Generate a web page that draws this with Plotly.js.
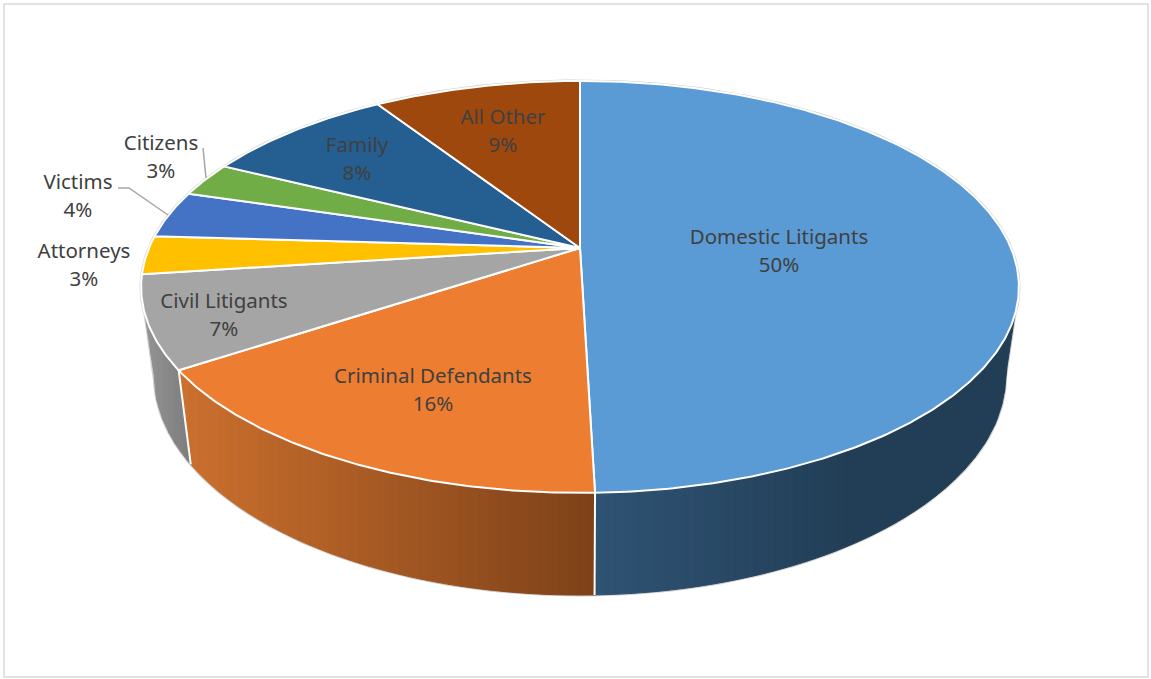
<!DOCTYPE html>
<html>
<head>
<meta charset="utf-8">
<script src="https://cdn.plot.ly/plotly-3.0.0.min.js"></script>
<style>html,body{margin:0;padding:0;background:#fff}#chart{width:1151px;height:679px}</style>
</head>
<body>
<div id="chart"></div>
<script>
const categories = ["Domestic Litigants","Criminal Defendants","Civil Litigants","Attorneys","Victims","Citizens","Family","All Other"];
const shares = [49.55,16.15,7.25,3.0,3.7,2.7,8.49,9.16];
const colors = ["#5B9BD5","#ED7D31","#A5A5A5","#FFC000","#4472C4","#70AD47","#255E91","#9E480E"];
const labelX = [779,433,224,84,78,161,357,503];
const labelY = [238.5,377.5,302.5,252.5,183.5,144.5,146.5,118.5];
const lineGap = 28.5;

// wall shade: colour at the left and right of each visible wall, in screen x
const wallShade = [
  {x0:595,x1:850,c0:[47,83,116],c1:[34,62,86],band:10},
  {x0:180,x1:595,c0:[204,112,46],c1:[125,65,24],band:10},
  {x0:145,x1:189,c0:[148,148,148],c1:[126,126,126],band:6}
];

// perspective disc
const cx=580, k=0.189;
const topPlane={ay:248,a:431,b:198.6};
const botPlane={ay:334,a:418,b:211.7};
function rim(deg,p){
  const t=deg*Math.PI/180,u=Math.sin(t),v=Math.cos(t),d=1+k*v;
  return [cx+p.a*u/d,p.ay-p.b*v/d];
}
function arc(a0,a1,p,step){
  const n=Math.max(1,Math.ceil(Math.abs(a1-a0)/(step||0.5))),o=[];
  for(let i=0;i<=n;i++)o.push(rim(a0+(a1-a0)*i/n,p));
  return o;
}
const total=shares.reduce((a,b)=>a+b,0);
const bounds=[0];
shares.forEach(s=>bounds.push(bounds[bounds.length-1]+s/total*360));

const traces=[];
function poly(pts,fill,lineColor,w){
  traces.push({type:"scatter",mode:"lines",x:pts.map(p=>p[0]),y:pts.map(p=>p[1]),
    fill:"toself",fillcolor:fill,line:{color:lineColor||fill,width:w===undefined?1:w},
    hoverinfo:"skip",showlegend:false});
}
function stroke(pts,c,w){
  traces.push({type:"scatter",mode:"lines",x:pts.map(p=>p[0]),y:pts.map(p=>p[1]),
    line:{color:c,width:w},hoverinfo:"skip",showlegend:false});
}
function mix(s,x){
  let f=(x-s.x0)/(s.x1-s.x0);f=Math.max(0,Math.min(1,f));
  const c=s.c0.map((v,i)=>Math.round(v+(s.c1[i]-v)*f));
  return "rgb("+c.join(",")+")";
}
function yAt(line,x){
  for(let i=0;i<line.length-1;i++){
    const a=line[i],b=line[i+1];
    if(x>=a[0]&&x<=b[0]){return b[0]===a[0]?a[1]:a[1]+(b[1]-a[1])*(x-a[0])/(b[0]-a[0]);}
  }
  return x<line[0][0]?line[0][1]:line[line.length-1][1];
}
function byX(line){return line.slice().sort((a,b)=>a[0]-b[0]);}

// silhouette limits of the wall
const topR=108.5,botR=101,topL=251.5,botL=259;

// outer hairline
stroke(arc(topL,topR+360,topPlane,1).concat(arc(botR,botL,botPlane,1)).concat([rim(topL,topPlane)]).reverse(),"#cfcfcf",3);

// upper and lower outline of the three visible walls, left to right on screen
const wallUpper=[
  byX(arc(bounds[1],topR,topPlane)),
  byX(arc(bounds[2],bounds[1],topPlane)),
  byX(arc(topL,bounds[2],topPlane).concat([rim(bounds[2],botPlane)]))
];
const wallLower=[
  byX(arc(bounds[1],botR,botPlane).concat([rim(topR,topPlane)])),
  byX([rim(bounds[2],topPlane)].concat(arc(bounds[2],bounds[1],botPlane))),
  byX([rim(topL,topPlane)].concat(arc(botL,bounds[2],botPlane)))
];
// vertical bands of shade
[0,1,2].forEach(i=>{
  const s=wallShade[i],U=wallUpper[i],L=wallLower[i];
  const xa=Math.min(U[0][0],L[0][0]),xb=Math.max(U[U.length-1][0],L[L.length-1][0]);
  for(let x=xa;x<xb;x+=s.band){
    const e=Math.min(x+s.band,xb),up=[],lo=[];
    for(let q=0;q<=4;q++){
      const xx=x+(e-x)*q/4;
      up.push([xx,yAt(U,xx)]);
      lo.unshift([xx,yAt(L,xx)]);
    }
    const pts=up.concat(lo);pts.push(pts[0]);
    poly(pts,mix(s,(x+e)/2));
  }
});
// wall edges between walls
[bounds[1],bounds[2]].forEach(d=>stroke([rim(d,topPlane),rim(d,botPlane)],"#ffffff",2));

// top face
shares.forEach((s,i)=>{
  const pts=[[cx,topPlane.ay]].concat(arc(bounds[i],bounds[i+1],topPlane,0.5));
  pts.push([cx,topPlane.ay]);
  poly(pts,colors[i],"#ffffff",2);
});

// leaders
stroke([[203,148],[206,178]],"#a6a6a6",1.5);
stroke([[118,188],[129,188],[168,215]],"#a6a6a6",1.5);

// labels
const labelFont={family:"'Noto Sans', sans-serif",size:20.5,color:"#404040"};
traces.push({type:"scatter",mode:"text",x:labelX,y:labelY,text:categories,textposition:"middle center",
  textfont:labelFont,hoverinfo:"skip",showlegend:false,cliponaxis:false});
traces.push({type:"scatter",mode:"text",x:labelX,y:labelY.map(v=>v+lineGap),
  text:shares.map(v=>Math.round(v)+"%"),textposition:"middle center",
  textfont:labelFont,hoverinfo:"skip",showlegend:false,cliponaxis:false});

const hidden={visible:false,fixedrange:true};
Plotly.newPlot("chart",traces,{
  width:1151,height:679,margin:{l:0,r:0,t:0,b:0},
  paper_bgcolor:"#ffffff",plot_bgcolor:"#ffffff",showlegend:false,
  xaxis:Object.assign({range:[0,1151]},hidden),
  yaxis:Object.assign({range:[679,0]},hidden),
  shapes:[{type:"rect",xref:"x",yref:"y",x0:4,y0:4,x1:1148,y1:677,line:{color:"#d9d9d9",width:1.5},fillcolor:"rgba(0,0,0,0)",layer:"below"}]
},{staticPlot:true,displayModeBar:false});
</script>
</body>
</html>
